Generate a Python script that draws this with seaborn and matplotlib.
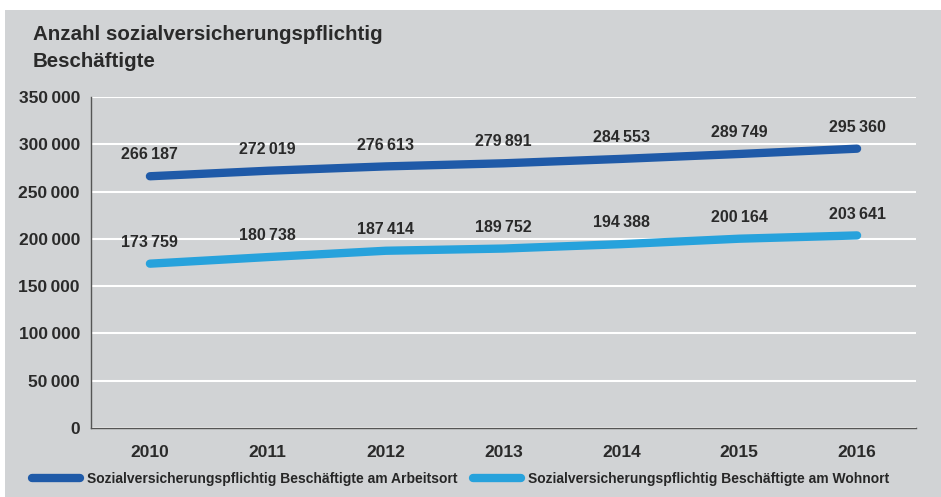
import pandas as pd
import seaborn as sns
import matplotlib.pyplot as plt
from matplotlib.patches import Rectangle
from matplotlib.lines import Line2D

# Daten aus der Grafik
jahre = [2010, 2011, 2012, 2013, 2014, 2015, 2016]
arbeitsort = [266187, 272019, 276613, 279891, 284553, 289749, 295360]
wohnort = [173759, 180738, 187414, 189752, 194388, 200164, 203641]
serien = ["Sozialversicherungspflichtig Beschäftigte am Arbeitsort",
          "Sozialversicherungspflichtig Beschäftigte am Wohnort"]
farben = ["#1f5aa8", "#27a2dc"]
y_ticks = [0, 50000, 100000, 150000, 200000, 250000, 300000, 350000]

df = pd.DataFrame({
    "pos": list(range(len(jahre))) * 2,
    "wert": arbeitsort + wohnort,
    "serie": [serien[0]] * len(jahre) + [serien[1]] * len(jahre),
})

sns.set_style("white")
plt.rcParams['font.family'] = ['Liberation Sans', 'DejaVu Sans']
grau_bg = "#d1d3d5"
text_c = "#2a2a2a"

def fmt(v):
    return f"{v:,}".replace(",", "\u2009")

fig = plt.figure(figsize=(9.41, 4.97), dpi=100)
fig.patch.set_facecolor("white")
fig.add_artist(Rectangle((5 / 941, 0), 1, 487 / 497, transform=fig.transFigure,
                         facecolor=grau_bg, edgecolor="none", zorder=-10))

ax = fig.add_axes([91 / 941, (497 - 428) / 497, (916 - 91) / 941, (428 - 97) / 497])
ax.set_facecolor(grau_bg)

sns.lineplot(data=df, x="pos", y="wert", hue="serie", palette=farben,
             linewidth=6, legend=False, ax=ax, solid_capstyle="round")

# Datenbeschriftung
for werte in (arbeitsort, wohnort):
    for i, v in enumerate(werte):
        ax.annotate(fmt(v), (i, v), xytext=(0, 10), textcoords="offset points",
                    ha="center", va="bottom", fontsize=11.5, fontweight="bold", color=text_c)

ax.set_xlim(-0.5, len(jahre) - 0.5)
ax.set_ylim(0, 350000)
ax.set_yticks(y_ticks)
ax.set_yticklabels([fmt(t) for t in y_ticks], fontsize=12.5, fontweight="bold", color=text_c)
ax.set_xticks(range(len(jahre)))
ax.set_xticklabels([str(j) for j in jahre], fontsize=12.5, fontweight="bold", color=text_c)
ax.set_xticks([i - 0.5 for i in range(len(jahre) + 1)], minor=True)
ax.tick_params(axis="x", which="major", length=0, pad=12)
ax.tick_params(axis="x", which="minor", length=5, width=1, color="#555555", direction="out")
ax.tick_params(axis="y", which="major", length=4, width=1, color="#555555", direction="out", pad=4)
ax.set_xlabel("")
ax.set_ylabel("")

ax.grid(axis="y", color="white", linewidth=1.5)
ax.set_axisbelow(True)
for s in ["top", "right"]:
    ax.spines[s].set_visible(False)
for s in ["left", "bottom"]:
    ax.spines[s].set_color("#555555")
    ax.spines[s].set_linewidth(1)

fig.text(33 / 941, 1 - 25 / 497, "Anzahl sozialversicherungspflichtig\nBeschäftigte",
         fontsize=14.8, fontweight="bold", color=text_c, va="top", ha="left", linespacing=1.55)

handles = [Line2D([0], [0], color=c, linewidth=6, solid_capstyle="round") for c in farben]
fig.legend(handles, serien, loc="center left", bbox_to_anchor=(19 / 941, 1 - 479 / 497),
           ncol=2, frameon=False, handlelength=3.5, columnspacing=1.1,
           handletextpad=0.5, prop={"weight": "bold", "size": 10})

fig.savefig("out.png", dpi=100, facecolor=fig.get_facecolor())
